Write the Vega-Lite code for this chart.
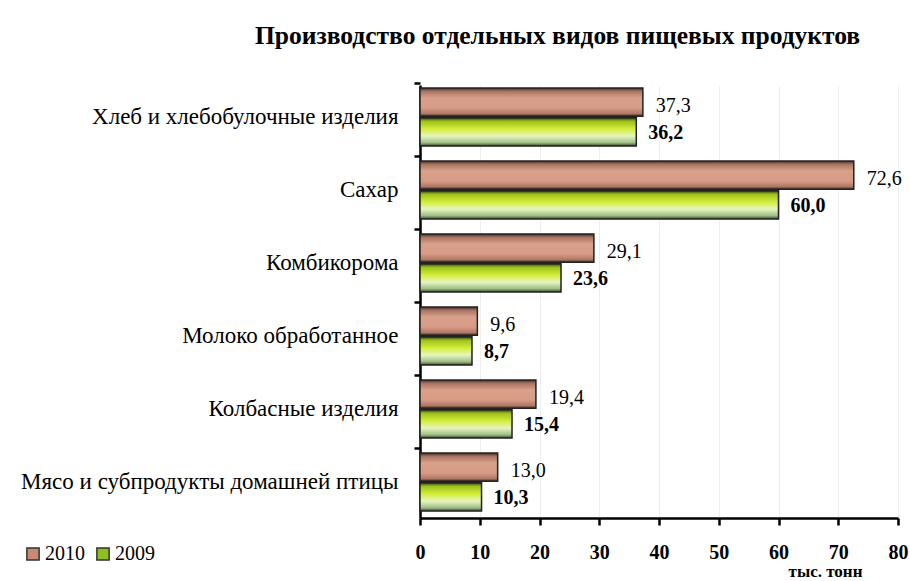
{
  "$schema": "https://vega.github.io/schema/vega-lite/v6.json",
  "width": 478,
  "height": 433,
  "autosize": {"type": "none"},
  "padding": {"left": 420, "top": 85, "right": 12, "bottom": 63},
  "background": "white",
  "config": {
    "font": "Times New Roman, Liberation Serif, serif",
    "view": {"stroke": null},
    "locale": {"number": {"decimal": ",", "thousands": " ", "grouping": [3], "currency": ["", ""]}}
  },
  "title": {
    "text": "Производство отдельных видов пищевых продуктов",
    "font": "Times New Roman, Liberation Serif, serif",
    "fontSize": 25.5,
    "fontWeight": "bold",
    "color": "black",
    "anchor": "start",
    "frame": "group",
    "dx": -165,
    "baseline": "alphabetic",
    "offset": 12
  },
  "data": {
    "values": [
      {"cat": "Хлеб и хлебобулочные изделия", "year": "2010", "value": 37.3},
      {"cat": "Хлеб и хлебобулочные изделия", "year": "2009", "value": 36.2},
      {"cat": "Сахар", "year": "2010", "value": 72.6},
      {"cat": "Сахар", "year": "2009", "value": 60.0},
      {"cat": "Комбикорома", "year": "2010", "value": 29.1},
      {"cat": "Комбикорома", "year": "2009", "value": 23.6},
      {"cat": "Молоко обработанное", "year": "2010", "value": 9.6},
      {"cat": "Молоко обработанное", "year": "2009", "value": 8.7},
      {"cat": "Колбасные изделия", "year": "2010", "value": 19.4},
      {"cat": "Колбасные изделия", "year": "2009", "value": 15.4},
      {"cat": "Мясо и субпродукты домашней птицы", "year": "2010", "value": 13.0},
      {"cat": "Мясо и субпродукты домашней птицы", "year": "2009", "value": 10.3}
    ]
  },
  "encoding": {
    "y": {
      "field": "cat",
      "type": "nominal",
      "sort": ["Хлеб и хлебобулочные изделия", "Сахар", "Комбикорома", "Молоко обработанное", "Колбасные изделия", "Мясо и субпродукты домашней птицы"],
      "scale": {"paddingInner": 0.205, "paddingOuter": 0.068, "align": 0.3},
      "axis": {
        "title": null,
        "labelFont": "Times New Roman, Liberation Serif, serif",
        "labelFontSize": 23,
        "labelColor": "black",
        "labelLimit": 600,
        "labelPadding": 16,
        "domainColor": "black",
        "domainWidth": 2.5,
        "tickColor": "black",
        "tickWidth": 2.5,
        "tickSize": 6,
        "bandPosition": -0.07
      }
    },
    "x": {
      "field": "value",
      "type": "quantitative",
      "scale": {"domain": [0, 80]},
      "axis": {
        "title": "тыс. тонн",
        "titleFont": "Times New Roman, Liberation Serif, serif",
        "titleFontSize": 17,
        "titleFontWeight": "bold",
        "titleColor": "black",
        "titleX": 405,
        "titleY": 53,
        "titleAlign": "center",
        "titleBaseline": "middle",
        "values": [0, 10, 20, 30, 40, 50, 60, 70, 80],
        "format": "d",
        "labelFont": "Times New Roman, Liberation Serif, serif",
        "labelFontSize": 20,
        "labelFontWeight": "bold",
        "labelColor": "black",
        "labelPadding": 17,
        "labelFlush": false,
        "tickSize": 7,
        "tickWidth": 2.5,
        "tickColor": "black",
        "domainColor": "black",
        "domainWidth": 2.5,
        "grid": true,
        "gridColor": "#eeeeee"
      }
    },
    "yOffset": {
      "field": "year",
      "type": "nominal",
      "scale": {"domain": ["2010", "2009"], "paddingInner": 0.05}
    }
  },
  "layer": [
    {
      "mark": {"type": "bar"},
      "encoding": {
        "color": {
          "field": "year",
          "type": "nominal",
          "scale": {"domain": ["2010", "2009"], "range": ["#c88a74", "#8fbf1f"]},
          "legend": {
            "orient": "none",
            "legendX": -397,
            "legendY": 459,
            "direction": "horizontal",
            "title": null,
            "labelFont": "Times New Roman, Liberation Serif, serif",
            "labelFontSize": 20,
            "labelColor": "black",
            "symbolType": "square",
            "symbolSize": 150,
            "symbolStrokeColor": "#333333",
            "symbolStrokeWidth": 1.5,
            "symbolOpacity": 1,
            "labelOffset": 2,
            "columnPadding": 8
          }
        }
      }
    },
    {
      "transform": [{"filter": "datum.year == '2010'"}],
      "mark": {
        "type": "bar",
        "stroke": "#222222",
        "strokeWidth": 1.5,
        "fill": {
          "gradient": "linear", "x1": 0, "y1": 0, "x2": 0, "y2": 1,
          "stops": [
            {"offset": 0, "color": "#4a2e24"},
            {"offset": 0.12, "color": "#a87462"},
            {"offset": 0.35, "color": "#d9a08a"},
            {"offset": 0.7, "color": "#d89c86"},
            {"offset": 0.9, "color": "#b07a66"},
            {"offset": 1, "color": "#4a2e24"}
          ]
        }
      }
    },
    {
      "transform": [{"filter": "datum.year == '2009'"}],
      "mark": {
        "type": "bar",
        "stroke": "#222222",
        "strokeWidth": 1.5,
        "fill": {
          "gradient": "linear", "x1": 0, "y1": 0, "x2": 0, "y2": 1,
          "stops": [
            {"offset": 0, "color": "#2e3a12"},
            {"offset": 0.12, "color": "#9cc01a"},
            {"offset": 0.4, "color": "#d4ee3a"},
            {"offset": 0.65, "color": "#e6f5c0"},
            {"offset": 0.88, "color": "#9fbf88"},
            {"offset": 1, "color": "#3a4a2a"}
          ]
        }
      }
    },
    {
      "transform": [{"filter": "datum.year == '2010'"}],
      "mark": {"type": "text", "align": "left", "baseline": "middle", "dx": 13, "dy": 4, "font": "Times New Roman, Liberation Serif, serif", "fontSize": 20, "color": "black"},
      "encoding": {"text": {"field": "value", "type": "quantitative", "format": ".1f"}}
    },
    {
      "transform": [{"filter": "datum.year == '2009'"}],
      "mark": {"type": "text", "align": "left", "baseline": "middle", "dx": 12, "dy": 1, "font": "Times New Roman, Liberation Serif, serif", "fontSize": 20, "fontWeight": "bold", "color": "black"},
      "encoding": {"text": {"field": "value", "type": "quantitative", "format": ".1f"}}
    }
  ]
}
